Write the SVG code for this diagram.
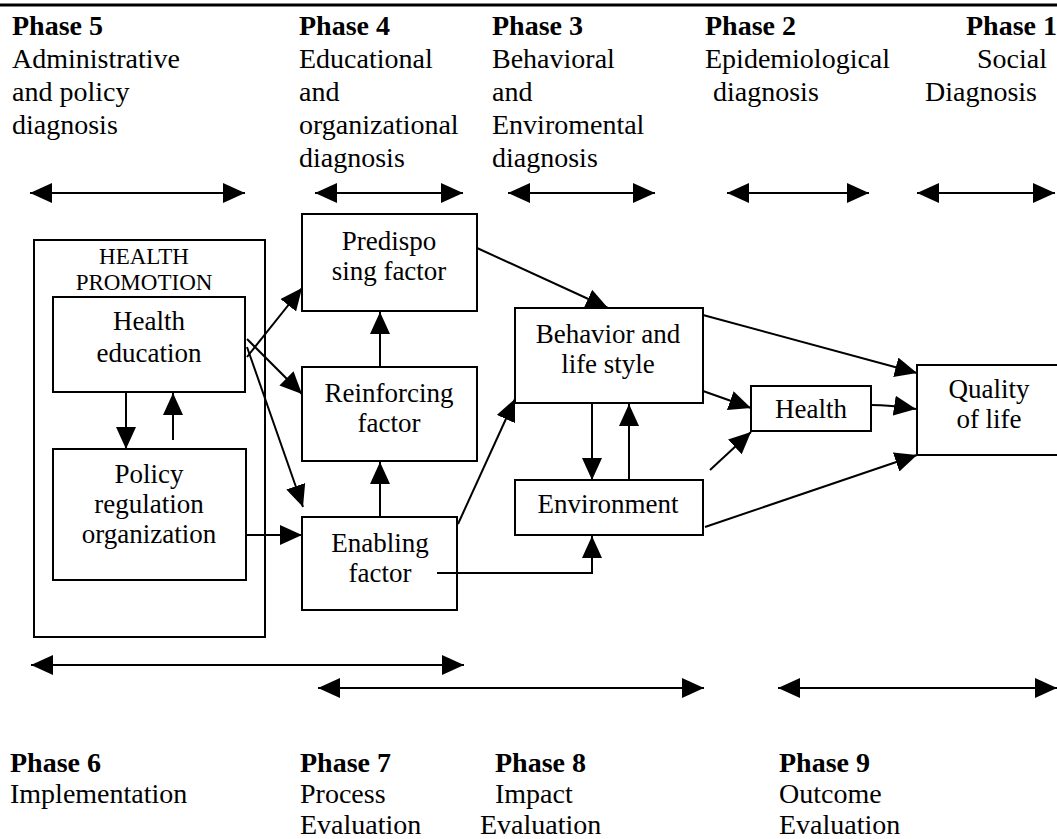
<svg xmlns="http://www.w3.org/2000/svg" width="1057" height="839" viewBox="0 0 1057 839">
<style>
text{font-family:"Liberation Serif","Times New Roman",serif;fill:#000}
.h{font-size:28px}
.b{font-weight:bold}
.n{font-size:27px;text-anchor:middle}
.s{font-size:23px;text-anchor:middle}
rect{fill:#fff;stroke:#000;stroke-width:2}
.c line,.c polyline,.c path{stroke:#000;stroke-width:2;fill:none}
</style>
<defs>
<marker id="ah" markerUnits="userSpaceOnUse" markerWidth="22" markerHeight="20" refX="22" refY="10" orient="auto-start-reverse" viewBox="0 0 22 20">
<path d="M0,0 L22,10 L0,20 z" fill="#000"/>
</marker>
</defs>
<rect x="0" y="0" width="1057" height="839" style="fill:#fff;stroke:none"/>
<line x1="0" y1="5" x2="1057" y2="5" stroke="#000" stroke-width="3"/>

<g id="header-phase5" class="h">
<text x="12" y="35" class="b">Phase 5</text>
<text x="12" y="68">Administrative</text>
<text x="12" y="101">and policy</text>
<text x="12" y="134">diagnosis</text>
</g>
<g id="header-phase4" class="h">
<text x="299" y="35" class="b">Phase 4</text>
<text x="299" y="68">Educational</text>
<text x="299" y="101">and</text>
<text x="299" y="134">organizational</text>
<text x="299" y="167">diagnosis</text>
</g>
<g id="header-phase3" class="h">
<text x="492" y="35" class="b">Phase 3</text>
<text x="492" y="68">Behavioral</text>
<text x="492" y="101">and</text>
<text x="492" y="134">Enviromental</text>
<text x="492" y="167">diagnosis</text>
</g>
<g id="header-phase2" class="h">
<text x="705" y="35" class="b">Phase 2</text>
<text x="705" y="68">Epidemiological</text>
<text x="713" y="101">diagnosis</text>
</g>
<g id="header-phase1" class="h">
<text x="966" y="35" class="b">Phase 1</text>
<text x="977" y="68">Social</text>
<text x="925" y="101">Diagnosis</text>
</g>

<g id="footer-phase6" class="h">
<text x="10" y="772" class="b">Phase 6</text>
<text x="10" y="803">Implementation</text>
</g>
<g id="footer-phase7" class="h">
<text x="300" y="772" class="b">Phase 7</text>
<text x="300" y="803">Process</text>
<text x="300" y="834">Evaluation</text>
</g>
<g id="footer-phase8" class="h">
<text x="495" y="772" class="b">Phase 8</text>
<text x="495" y="803">Impact</text>
<text x="480" y="834">Evaluation</text>
</g>
<g id="footer-phase9" class="h">
<text x="779" y="772" class="b">Phase 9</text>
<text x="779" y="803">Outcome</text>
<text x="779" y="834">Evaluation</text>
</g>

<g id="health-promotion">
<rect x="34" y="240" width="231" height="397"/>
<text x="144" y="264" class="s">HEALTH</text>
<text x="144" y="290" class="s">PROMOTION</text>
</g>
<g id="health-education">
<rect x="53" y="297" width="192" height="95"/>
<text x="149" y="330" class="n">Health</text>
<text x="149" y="362" class="n">education</text>
</g>
<g id="policy">
<rect x="53" y="449" width="193" height="131"/>
<text x="149" y="483" class="n">Policy</text>
<text x="149" y="513" class="n">regulation</text>
<text x="149" y="543" class="n">organization</text>
</g>
<g id="predisposing">
<rect x="302" y="214" width="175" height="97"/>
<text x="389" y="250" class="n">Predispo</text>
<text x="389" y="280" class="n">sing factor</text>
</g>
<g id="reinforcing">
<rect x="302" y="367" width="175" height="94"/>
<text x="389" y="402" class="n">Reinforcing</text>
<text x="389" y="432" class="n">factor</text>
</g>
<g id="enabling">
<rect x="302" y="517" width="155" height="93"/>
<text x="380" y="552" class="n">Enabling</text>
<text x="380" y="582" class="n">factor</text>
</g>
<g id="behavior">
<rect x="515" y="308" width="188" height="95"/>
<text x="608" y="343" class="n">Behavior and</text>
<text x="608" y="373" class="n">life style</text>
</g>
<g id="environment">
<rect x="515" y="480" width="188" height="55"/>
<text x="608" y="513" class="n">Environment</text>
</g>
<g id="health">
<rect x="751" y="386" width="120" height="45"/>
<text x="811" y="418" class="n">Health</text>
</g>
<g id="quality">
<rect x="917" y="365" width="160" height="90"/>
<text x="989" y="398" class="n">Quality</text>
<text x="989" y="428" class="n">of life</text>
</g>

<g id="phase-arrows" class="c">
<line x1="30" y1="193" x2="245" y2="193" marker-start="url(#ah)" marker-end="url(#ah)"/>
<line x1="315" y1="193" x2="463" y2="193" marker-start="url(#ah)" marker-end="url(#ah)"/>
<line x1="508" y1="193" x2="655" y2="193" marker-start="url(#ah)" marker-end="url(#ah)"/>
<line x1="727" y1="193" x2="869" y2="193" marker-start="url(#ah)" marker-end="url(#ah)"/>
<line x1="917" y1="193" x2="1055" y2="193" marker-start="url(#ah)" marker-end="url(#ah)"/>
<line x1="31" y1="665" x2="464" y2="665" marker-start="url(#ah)" marker-end="url(#ah)"/>
<line x1="318" y1="688" x2="704" y2="688" marker-start="url(#ah)" marker-end="url(#ah)"/>
<line x1="778" y1="688" x2="1057" y2="688" marker-start="url(#ah)" marker-end="url(#ah)"/>
</g>

<g id="connectors" class="c">
<line x1="126" y1="392" x2="126" y2="449" marker-end="url(#ah)"/>
<line x1="173" y1="440" x2="173" y2="393" marker-end="url(#ah)"/>
<line x1="247" y1="357" x2="302" y2="288" marker-end="url(#ah)"/>
<line x1="247" y1="339" x2="302" y2="394" marker-end="url(#ah)"/>
<line x1="247" y1="347" x2="303" y2="507" marker-end="url(#ah)"/>
<line x1="247" y1="535" x2="302" y2="535" marker-end="url(#ah)"/>
<line x1="380" y1="367" x2="380" y2="312" marker-end="url(#ah)"/>
<line x1="380" y1="517" x2="380" y2="462" marker-end="url(#ah)"/>
<line x1="477" y1="248" x2="608" y2="308" marker-end="url(#ah)"/>
<line x1="458" y1="524" x2="515" y2="399" marker-end="url(#ah)"/>
<polyline points="437,573 592,573 592,536" marker-end="url(#ah)"/>
<line x1="592" y1="403" x2="592" y2="480" marker-end="url(#ah)"/>
<line x1="629" y1="480" x2="629" y2="404" marker-end="url(#ah)"/>
<line x1="703" y1="315" x2="917" y2="373" marker-end="url(#ah)"/>
<line x1="703" y1="391" x2="751" y2="408" marker-end="url(#ah)"/>
<path d="M871,405 Q890,405 916,409" marker-end="url(#ah)"/>
<line x1="710" y1="470" x2="751" y2="432" marker-end="url(#ah)"/>
<line x1="705" y1="527" x2="917" y2="455" marker-end="url(#ah)"/>
</g>
</svg>
